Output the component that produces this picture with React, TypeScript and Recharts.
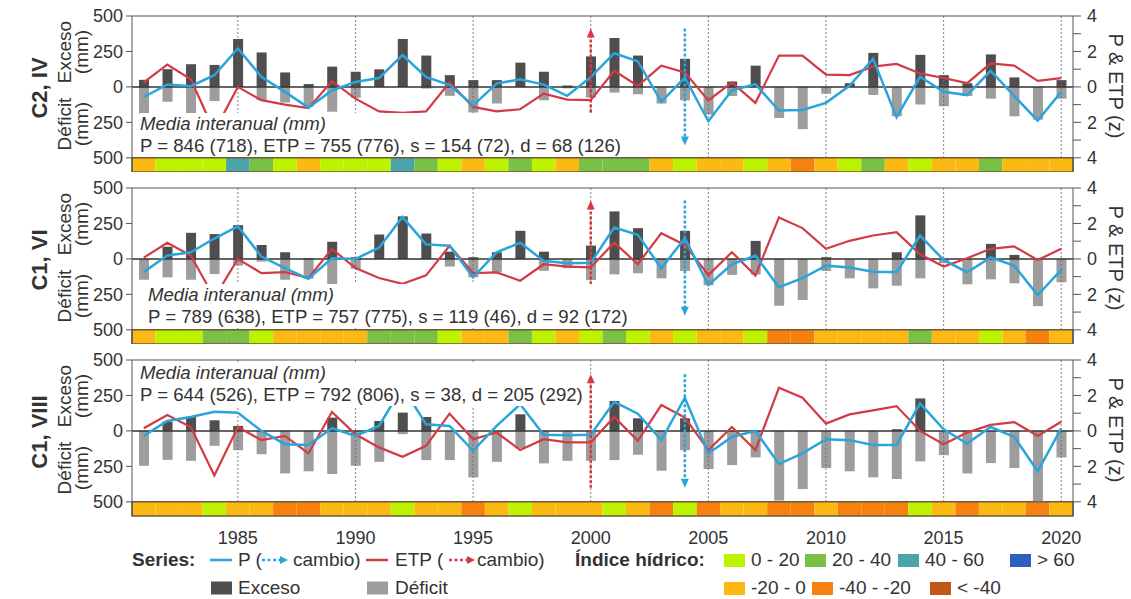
import React from "react";
import { ComposedChart, Bar, Line, XAxis, YAxis, ReferenceLine, ReferenceArea } from "recharts";

const YEARS = [
  1981, 1982, 1983, 1984, 1985, 1986, 1987, 1988, 1989, 1990,
  1991, 1992, 1993, 1994, 1995, 1996, 1997, 1998, 1999, 2000,
  2001, 2002, 2003, 2004, 2005, 2006, 2007, 2008, 2009, 2010,
  2011, 2012, 2013, 2014, 2015, 2016, 2017, 2018, 2019, 2020,
];
const DECADE_TICKS = [1985, 1990, 1995, 2000, 2005, 2010, 2015, 2020];

// C2, IV
const IV_EXCESO = [50, 125, 160, 155, 338, 243, 102, 20, 143, 107, 124, 338, 221, 83, 48, 48, 171, 107, 10, 215,
  345, 221, 0, 198, 0, 38, 150, 0, 0, 0, 26, 240, 0, 226, 83, 26, 229, 67, 0, 48];
const IV_DEFICIT = [190, 105, 210, 100, 0, 94, 110, 140, 175, 77, 0, 0, 12, 63, 180, 117, 0, 94, 10, 75,
  40, 52, 117, 95, 195, 64, 0, 219, 298, 48, 0, 57, 207, 124, 136, 64, 83, 207, 231, 83];
const IV_P = [-0.57, 0.13, 0.04, 0.66, 2.17, 0.57, -0.28, -1.17, -0.2, 0.28, 0.5, 1.8, 0.57, 0.1, -1.04, 0.19, 0.43, 0.13, -0.5, 0.55,
  1.9, 1.45, -0.84, 0.53, -1.94, -0.19, 0.15, -1.33, -1.3, -0.9, 0.06, 1.58, -1.71, 0.57, -0.27, -0.46, 0.91, -0.51, -1.9, -0.27];
const IV_ETP = [0.25, 1.26, 0.43, -2.5, 0, -0.75, -1.0, -1.2, 0.32, -0.66, -1.38, -1.47, -1.38, 0.25, -1.13, -1.38, -1.26, -0.38, -0.72, -0.75,
  0.91, 0.06, 1.2, 0.82, -0.76, 0.25, -0.9, 1.77, 1.77, 0.69, 0.67, 1.14, 1.3, 0.76, 0.5, 0.21, 1.33, 1.2, 0.34, 0.5];
const IV_INDICE = ["a", "A", "A", "A", "C", "B", "A", "a", "A", "A", "A", "C", "B", "A", "a", "A", "B", "A", "a", "B",
  "B", "B", "a", "A", "a", "a", "A", "a", "b", "a", "A", "B", "a", "A", "a", "a", "B", "a", "a", "a"];

// C1, VI
const VI_EXCESO = [0, 86, 184, 175, 238, 98, 47, 5, 121, 12, 172, 300, 179, 51, 12, 47, 198, 51, 0, 94,
  335, 217, 0, 198, 0, 0, 127, 0, 0, 12, 0, 0, 47, 307, 0, 0, 106, 28, 0, 0];
const VI_DEFICIT = [147, 130, 147, 107, 47, 19, 147, 140, 228, 70, 0, 0, 0, 54, 130, 93, 0, 84, 65, 149,
  109, 101, 137, 85, 186, 113, 110, 330, 290, 85, 137, 208, 189, 137, 30, 179, 144, 172, 333, 165];
const VI_P = [-0.74, 0.19, 0.37, 1.15, 1.84, 0.13, -0.52, -1.12, 0.04, 0, 0.63, 2.36, 0.82, 0.74, -1.04, 0.37, 0.91, -0.11, -0.24, -0.22,
  1.77, 1.36, -0.53, 1.17, -1.47, -0.3, 0.19, -1.6, -1.09, -0.38, -0.49, -0.72, -0.75, 1.32, -0.06, -0.75, 0.08, -0.38, -2.04, -0.62];
const VI_ETP = [0.07, 0.91, 0.19, -2.2, 0, -0.8, -0.74, -1.08, 0.56, -0.52, -1.08, -1.41, -0.93, 0.74, -0.8, -0.76, -1.23, -0.3, -0.43, -0.48,
  0.92, -0.3, 1.45, 0.79, -0.91, 0.38, -0.94, 2.34, 1.74, 0.57, 1.02, 1.32, 1.51, 0.26, -0.43, 0.04, 0.57, 0.7, -0.06, 0.57];
const VI_INDICE = ["a", "A", "A", "B", "B", "A", "a", "a", "a", "a", "B", "B", "B", "A", "a", "a", "B", "A", "a", "A",
  "B", "A", "a", "A", "a", "a", "A", "b", "b", "a", "a", "a", "a", "B", "a", "a", "A", "a", "b", "a"];

// C1, VIII
const VIII_EXCESO = [0, 66, 101, 75, 35, 0, 0, 0, 94, 0, 70, 129, 98, 0, 0, 0, 117, 0, 0, 0,
  211, 89, 0, 89, 0, 0, 0, 0, 0, 0, 0, 0, 12, 229, 0, 0, 0, 0, 0, 0];
const VIII_DEFICIT = [246, 204, 211, 105, 136, 164, 300, 285, 304, 246, 218, 23, 206, 206, 328, 218, 122, 229, 211, 211,
  206, 168, 281, 136, 269, 241, 187, 491, 410, 262, 285, 328, 339, 215, 171, 300, 227, 262, 496, 187];
const VIII_P = [-0.28, 0.56, 0.79, 1.08, 1.03, 0, -0.75, -0.79, 0.15, -0.28, 0.28, 2.5, 0.37, 0.28, -1.12, 0.28, 1.5, -0.22, -0.24, -0.22,
  1.64, 0.97, -0.52, 1.87, -1.27, -0.34, 0, -1.87, -1.27, -0.47, -0.52, -0.8, -0.79, 1.55, 0.09, -0.71, 0.22, -0.34, -2.28, 0.15];
const VIII_ETP = [0.15, 0.9, 0.22, -2.52, 0.22, -0.52, -0.28, -1.27, 1.07, -0.19, -0.93, -1.46, -0.84, 0.97, -0.47, -0.09, -1.08, -0.47, -0.65, -0.65,
  0.79, -0.56, 1.46, 0.75, -1.08, 0.22, -1.08, 2.43, 1.87, 0.41, 0.93, 1.16, 1.4, 0, -0.75, -0.09, 0.34, 0.5, -0.28, 0.52];
const VIII_INDICE = ["a", "a", "a", "A", "a", "a", "b", "b", "a", "a", "a", "A", "a", "a", "b", "a", "A", "a", "a", "a",
  "A", "a", "b", "A", "b", "a", "a", "b", "b", "a", "b", "b", "b", "A", "a", "b", "a", "a", "b", "a"];

const INDICE_COLORS: Record<string, string> = {
  A: "#bdf200",
  B: "#79c044",
  C: "#4ca4ab",
  D: "#2c5fbf",
  a: "#fdb913",
  b: "#f7810f",
  c: "#c4561c",
};

const FONT = "'Liberation Sans', Arial, Helvetica, sans-serif";
const TEXT = "#333";
const AXIS = "#555";
const P_COLOR = "#29a5dc";
const ETP_COLOR = "#d33a44";
const EXC_COLOR = "#4e4e4e";
const DEF_COLOR = "#9d9d9d";

const PANELS = [
  {
    title: "C2, IV", top: 0,
    exceso: IV_EXCESO, deficit: IV_DEFICIT, p: IV_P, etp: IV_ETP, indice: IV_INDICE,
    stats: "P = 846 (718), ETP = 755 (776), s = 154 (72), d = 68 (126)",
    textTop: 113, textX: 140,
    red: [3.3, -2.5], blue: [3.3, -3.3],
  },
  {
    title: "C1, VI", top: 172,
    exceso: VI_EXCESO, deficit: VI_DEFICIT, p: VI_P, etp: VI_ETP, indice: VI_INDICE,
    stats: "P = 789 (638), ETP = 757 (775), s = 119 (46), d = 92 (172)",
    textTop: 112, textX: 148,
    red: [3.3, -2.2], blue: [3.3, -3.2],
  },
  {
    title: "C1, VIII", top: 344,
    exceso: VIII_EXCESO, deficit: VIII_DEFICIT, p: VIII_P, etp: VIII_ETP, indice: VIII_INDICE,
    stats: "P = 644 (526), ETP = 792 (806), s = 38, d = 205 (292)",
    textTop: 18, textX: 140,
    red: [3.2, -3.2], blue: [3.2, -3.2],
  },
];

function arrowShape(color: string, up: boolean) {
  return (props: any) => {
    const { x1, y1, y2 } = props;
    const top = Math.min(y1, y2);
    const bottom = Math.max(y1, y2);
    const tip = up ? top : bottom;
    const d = up ? 1 : -1;
    return (
      <g>
        <line x1={x1} x2={x1} y1={up ? top + 6 : top} y2={up ? bottom : bottom - 6}
          stroke={color} strokeWidth={2.5} strokeDasharray="3 2" />
        <polygon points={`${x1 - 4},${tip + d * 9} ${x1 + 4},${tip + d * 9} ${x1},${tip}`} fill={color} />
      </g>
    );
  };
}

function Rotated({ x, y, angle, children, style }: any) {
  return (
    <div style={{
      position: "absolute", left: x, top: y, whiteSpace: "nowrap", textAlign: "center",
      transform: `translate(-50%, -50%) rotate(${angle}deg)`, ...style,
    }}>
      {children}
    </div>
  );
}

function Panel({ def, showYears }: { def: any; showYears: boolean }) {
  const data = YEARS.map((year, i) => ({
    year,
    exceso: def.exceso[i],
    deficit: -def.deficit[i],
    p: def.p[i],
    etp: def.etp[i],
  }));
  const xAxisH = showYears ? 40 : 0;

  return (
    <div style={{ position: "absolute", left: 0, top: def.top, width: 1131, height: 172 + xAxisH }}>
      <ComposedChart width={1131} height={172 + xAxisH} data={data} stackOffset="sign"
        margin={{ top: 16, right: 0, bottom: 0, left: 0 }}>
        <XAxis type="number" dataKey="year" domain={[1980.5, 2020.5]} allowDataOverflow ticks={DECADE_TICKS}
          hide={!showYears} height={xAxisH} axisLine={false} tickLine={false} tickMargin={9}
          tick={{ fontSize: 18, fill: TEXT, fontFamily: FONT }} />
        <YAxis yAxisId="mm" domain={[-600, 500]} allowDataOverflow ticks={[-500, -250, 0, 250, 500]}
          width={132} tickSize={6} tickMargin={3} stroke={AXIS}
          tickFormatter={(v: number) => String(Math.abs(v))}
          tick={{ fontSize: 18, fill: TEXT, fontFamily: FONT }} />
        <YAxis yAxisId="z" orientation="right" domain={[-4.8, 4]} allowDataOverflow
          ticks={[-4, -3, -2, -1, 0, 1, 2, 3, 4]} width={58} tickSize={8} tickMargin={6} stroke={AXIS}
          tickFormatter={(v: number) => (v % 2 === 0 ? String(Math.abs(v)) : "")}
          tick={{ fontSize: 18, fill: TEXT, fontFamily: FONT }} />

        {DECADE_TICKS.map((t) => (
          <ReferenceLine key={t} yAxisId="mm" segment={[{ x: t, y: -500 }, { x: t, y: 500 }]}
            stroke="#666" strokeDasharray="1.5 2.5" strokeWidth={1.1} />
        ))}
        {YEARS.map((year, i) => (
          <ReferenceArea key={year} yAxisId="mm" x1={year - 0.5} x2={year + 0.5} y1={-600} y2={-500}
            fill={INDICE_COLORS[def.indice[i]]} fillOpacity={1} stroke="none" />
        ))}
        <ReferenceArea yAxisId="mm" x1={1980.5} x2={2020.5} y1={-600} y2={-500}
          fill="none" stroke="#6b5b3a" strokeWidth={1.5} />
        <ReferenceLine yAxisId="mm" y={500} stroke={AXIS} strokeWidth={1.2} />

        <Bar yAxisId="mm" dataKey="exceso" stackId="s" fill={EXC_COLOR} barSize={10} isAnimationActive={false} />
        <Bar yAxisId="mm" dataKey="deficit" stackId="s" fill={DEF_COLOR} barSize={10} isAnimationActive={false} />
        <ReferenceLine yAxisId="mm" y={0} stroke="#333" strokeWidth={1.5} />

        <Line yAxisId="z" dataKey="etp" stroke={ETP_COLOR} strokeWidth={2.2} dot={false} type="linear" isAnimationActive={false} />
        <Line yAxisId="z" dataKey="p" stroke={P_COLOR} strokeWidth={2.5} dot={false} type="linear" isAnimationActive={false} />

        <ReferenceLine yAxisId="z" ifOverflow="visible" segment={[{ x: 2000, y: def.red[0] }, { x: 2000, y: def.red[1] }]}
          shape={arrowShape(ETP_COLOR, true)} />
        <ReferenceLine yAxisId="z" ifOverflow="visible" segment={[{ x: 2004, y: def.blue[0] }, { x: 2004, y: def.blue[1] }]}
          shape={arrowShape(P_COLOR, false)} />
      </ComposedChart>

      <div style={{ position: "absolute", left: def.textX, top: def.textTop, fontSize: 18.6, lineHeight: "22px",
        color: TEXT, whiteSpace: "nowrap", background: "#fff" }}>
        <div style={{ fontStyle: "italic", width: "fit-content", background: "#fff" }}>Media interanual (mm)</div>
        <div>{def.stats}</div>
      </div>

      <Rotated x={40} y={88} angle={-90} style={{ fontSize: 22, fontWeight: "bold", color: TEXT }}>{def.title}</Rotated>
      <Rotated x={73} y={52} angle={-90} style={{ fontSize: 19, lineHeight: "17px", color: TEXT }}>Exceso<br />(mm)</Rotated>
      <Rotated x={73} y={124} angle={-90} style={{ fontSize: 19, lineHeight: "17px", color: TEXT }}>Déficit<br />(mm)</Rotated>
      <Rotated x={1115} y={86} angle={90} style={{ fontSize: 20, color: TEXT }}>P &amp; ETP (z)</Rotated>
    </div>
  );
}

function LineSwatch({ color }: { color: string }) {
  return (
    <svg width={22} height={12}><line x1={0} y1={6} x2={22} y2={6} stroke={color} strokeWidth={2.5} /></svg>
  );
}

function ArrowSwatch({ color }: { color: string }) {
  return (
    <svg width={26} height={12}>
      <line x1={0} y1={6} x2={19} y2={6} stroke={color} strokeWidth={2.5} strokeDasharray="3 2.5" />
      <polygon points="18,2 26,6 18,10" fill={color} />
    </svg>
  );
}

function At({ x, y, children, style }: any) {
  return (
    <div style={{ position: "absolute", left: x, top: y, transform: "translateY(-50%)", whiteSpace: "nowrap",
      display: "flex", alignItems: "center", fontSize: 19, color: TEXT, ...style }}>
      {children}
    </div>
  );
}

function Box({ color }: { color: string }) {
  return <span style={{ display: "inline-block", width: 21, height: 13, background: color }} />;
}

const INDICE_LEGEND_1 = [["A", "0 - 20", 724], ["B", "20 - 40", 805], ["C", "40 - 60", 898], ["D", "> 60", 1010]];
const INDICE_LEGEND_2 = [["a", "-20 - 0", 724], ["b", "-40 - -20", 812], ["c", "< -40", 930]];

export default function App() {
  return (
    <div style={{ position: "relative", width: 1131, height: 599, fontFamily: FONT, background: "#fff" }}>
      <style>{"body{margin:0;background:#fff}"}</style>
      {PANELS.map((def, i) => (
        <Panel key={def.title} def={def} showYears={i === PANELS.length - 1} />
      ))}

      <At x={132} y={560} style={{ fontWeight: "bold" }}>Series:</At>
      <At x={210} y={560}><LineSwatch color={P_COLOR} /></At>
      <At x={238} y={560}>P (</At>
      <At x={262} y={560}><ArrowSwatch color={P_COLOR} /></At>
      <At x={293} y={560}>cambio)</At>
      <At x={366} y={560}><LineSwatch color={ETP_COLOR} /></At>
      <At x={395} y={560}>ETP (</At>
      <At x={449} y={560}><ArrowSwatch color={ETP_COLOR} /></At>
      <At x={477} y={560}>cambio)</At>
      <At x={211} y={588}><Box color={EXC_COLOR} /></At>
      <At x={238} y={588}>Exceso</At>
      <At x={367} y={588}><Box color={DEF_COLOR} /></At>
      <At x={395} y={588}>Déficit</At>

      <At x={575} y={560} style={{ fontWeight: "bold" }}>Índice hídrico:</At>
      {INDICE_LEGEND_1.map(([k, label, x]) => (
        <At key={k as string} x={x} y={560}><Box color={INDICE_COLORS[k as string]} /><span style={{ marginLeft: 6 }}>{label}</span></At>
      ))}
      {INDICE_LEGEND_2.map(([k, label, x]) => (
        <At key={k as string} x={x} y={588}><Box color={INDICE_COLORS[k as string]} /><span style={{ marginLeft: 6 }}>{label}</span></At>
      ))}
    </div>
  );
}
